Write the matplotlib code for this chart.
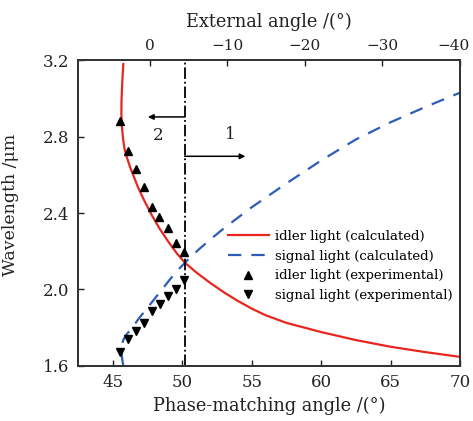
import matplotlib
matplotlib.use("Agg")
import matplotlib.pyplot as plt
import matplotlib.transforms as mtransforms

plt.rcParams['font.family'] = ['DejaVu Serif']

# calculated tuning curves
idler_angle = [45.76, 45.68, 45.63, 45.62, 45.66, 45.74, 45.85, 46.0, 46.24, 46.79, 47.2,
               47.8, 48.4, 49.0, 49.6, 50.19, 51.0, 52.0, 53.0, 54.0, 55.0, 56.0,
               57.5, 60.0, 62.5, 65.0, 67.5, 70.0]
idler_wl = [3.18, 3.08, 2.99, 2.92, 2.85, 2.79, 2.735, 2.695, 2.642, 2.54, 2.475,
            2.39, 2.315, 2.25, 2.19, 2.14, 2.09, 2.035, 1.985, 1.94, 1.90, 1.865,
            1.825, 1.777, 1.735, 1.70, 1.672, 1.647]

signal_angle = [45.76, 45.68, 45.63, 45.64, 45.75, 46.0, 46.4, 46.9, 47.4, 48.0, 48.6,
                49.2, 49.8, 50.4, 51.2, 52.0, 53.0, 54.0, 55.0, 56.0, 57.5, 60.0,
                62.5, 65.0, 67.5, 70.0]
signal_wl = [1.60, 1.635, 1.67, 1.70, 1.735, 1.765, 1.80, 1.85, 1.895, 1.95, 2.005,
             2.06, 2.11, 2.155, 2.21, 2.26, 2.32, 2.375, 2.43, 2.48, 2.555, 2.675,
             2.785, 2.875, 2.955, 3.03]

# experimental points
exp_angle = [45.52, 46.12, 46.67, 47.25, 47.80, 48.36, 48.97, 49.54, 50.12]
exp_idler = [2.883, 2.725, 2.628, 2.534, 2.431, 2.380, 2.323, 2.244, 2.197]
exp_angle_s = [45.52, 46.12, 46.67, 47.25, 47.84, 48.40, 48.99, 49.54, 50.12]
exp_signal = [1.674, 1.738, 1.783, 1.825, 1.888, 1.923, 1.965, 2.000, 2.049]

boundary = 50.18

fig = plt.figure(figsize=(4.73, 4.21), dpi=100)
ax = fig.add_axes([0.165, 0.131, 0.8075, 0.726])

red = '#e8261e'
blue = '#2d5db8'
ax.plot(idler_angle, idler_wl, color=red, lw=1.6, label='idler light (calculated)')
ax.plot(signal_angle, signal_wl, color=blue, lw=1.6, dashes=(6, 4.5),
        label='signal light (calculated)')
ax.plot(exp_angle, exp_idler, ls='none', marker='^', ms=5.5, color='black',
        label='idler light (experimental)')
ax.plot(exp_angle_s, exp_signal, ls='none', marker='v', ms=5.5, color='black',
        label='signal light (experimental)')

ax.axvline(boundary, color='black', lw=1.3, ls='-.')

# region arrows
ax.annotate('', xy=(47.53, 2.903), xytext=(boundary, 2.903),
            arrowprops=dict(arrowstyle='-|>', color='black', lw=1.1,
                            mutation_scale=8, shrinkA=0, shrinkB=0))
ax.annotate('', xy=(54.55, 2.697), xytext=(boundary, 2.697),
            arrowprops=dict(arrowstyle='-|>', color='black', lw=1.1,
                            mutation_scale=8, shrinkA=0, shrinkB=0))
ax.text(48.25, 2.805, '2', fontsize=12, ha='center', va='center', color='#222222')
ax.text(53.49, 2.81, '1', fontsize=12, ha='center', va='center', color='#222222')

ax.set_xlim(42.5, 70)
ax.set_ylim(1.6, 3.2)
ax.set_xticks([45, 50, 55, 60, 65, 70])
ax.set_yticks([1.6, 2.0, 2.4, 2.8, 3.2])
ax.set_yticklabels(['1.6', '2.0', '2.4', '2.8', '3.2'])
ax.tick_params(direction='in', length=4, width=1, labelsize=12, colors='#222222')
ax.tick_params(axis='x', pad=6)
ax.tick_params(axis='y', pad=6)
ax.set_xlabel('Phase-matching angle /(°)', fontsize=12.8, color='#222222', labelpad=4)
ax.set_ylabel('Wavelength /μm', fontsize=12.5, color='#222222')
ax.yaxis.set_label_coords(-0.155, 0.526)

for s in ax.spines.values():
    s.set_linewidth(1.3)
    s.set_color('#333333')

# external angle axis on top
ax2 = ax.twiny()
ax2.set_xlim(9.28, -40)
ax2.set_xticks([0, -10, -20, -30, -40])
ax2.tick_params(direction='in', length=4, width=1, labelsize=11, colors='#222222', pad=5)
ax2.set_xlabel('External angle /(°)', fontsize=12.8, color='#222222', labelpad=9)
for s in ax2.spines.values():
    s.set_linewidth(1.3)
    s.set_color('#333333')

# nudge the last top label so it stays inside the canvas
last = ax2.get_xticklabels()[-1]
last.set_transform(last.get_transform() +
                   mtransforms.ScaledTranslation(-5 / 72, 0, fig.dpi_scale_trans))

ax.legend(loc='upper left', bbox_to_anchor=(0.375, 0.466), frameon=False, fontsize=9.5,
          handlelength=3.1, handletextpad=0.45, labelspacing=0.5, borderpad=0)

fig.savefig('out.png', dpi=100)
